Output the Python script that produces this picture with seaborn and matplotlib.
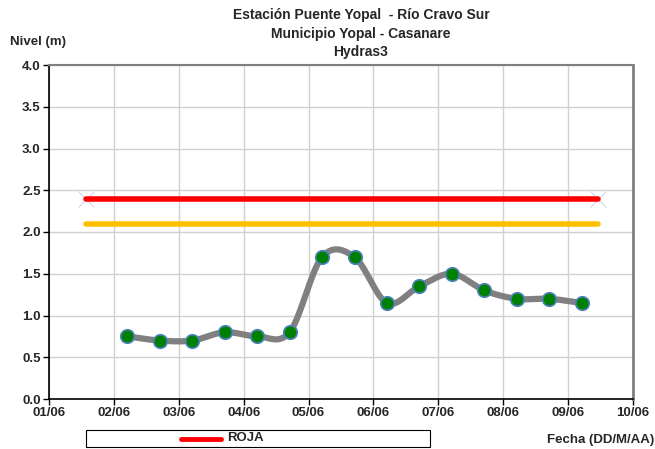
import numpy as np
import pandas as pd
import matplotlib
matplotlib.use("Agg")
import matplotlib.pyplot as plt
import matplotlib.dates as mdates
from matplotlib.lines import Line2D
from matplotlib.patches import Rectangle
import seaborn as sns

sns.set_theme(style="white")
plt.rcParams['font.family'] = ['Liberation Sans', 'DejaVu Sans']
plt.rcParams['font.weight'] = 'bold'

# Readings every 12 hours
fechas = pd.date_range("2023-06-02 05:00", periods=15, freq="12h")
nivel = [0.75, 0.70, 0.70, 0.80, 0.75, 0.80, 1.70, 1.70, 1.15, 1.35, 1.50, 1.30, 1.20, 1.20, 1.15]

# Alert thresholds
umbral_inicio = pd.Timestamp("2023-06-01 13:30")
umbral_fin = pd.Timestamp("2023-06-09 11:00")
nivel_roja = 2.4
nivel_naranja = 2.1

df = pd.DataFrame({"fecha": fechas, "nivel": nivel})


def suavizar(x, y, n=20):
    """Catmull-Rom curve through the readings (smoothed line)."""
    x = np.asarray(x, float)
    y = np.asarray(y, float)
    px = np.concatenate([[2 * x[0] - x[1]], x, [2 * x[-1] - x[-2]]])
    py = np.concatenate([[2 * y[0] - y[1]], y, [2 * y[-1] - y[-2]]])
    xs, ys = [], []
    for i in range(1, len(px) - 2):
        t = np.linspace(0, 1, n, endpoint=False)
        t2, t3 = t * t, t * t * t
        for arr, out in ((px, xs), (py, ys)):
            p0, p1, p2, p3 = arr[i - 1], arr[i], arr[i + 1], arr[i + 2]
            out.extend(0.5 * ((2 * p1) + (-p0 + p2) * t
                              + (2 * p0 - 5 * p1 + 4 * p2 - p3) * t2
                              + (-p0 + 3 * p1 - 3 * p2 + p3) * t3))
    xs.append(x[-1])
    ys.append(y[-1])
    return np.array(xs), np.array(ys)


fig = plt.figure(figsize=(6.55, 4.49), dpi=100)
ax = fig.add_axes([49 / 655, 1 - 399 / 449, (633 - 49) / 655, (399 - 65) / 449])

# Threshold lines
thr = pd.DataFrame({"fecha": [umbral_inicio, umbral_fin], "roja": [nivel_roja] * 2,
                    "naranja": [nivel_naranja] * 2})
sns.lineplot(data=thr, x="fecha", y="roja", color="#FF0000", lw=4, ax=ax,
             solid_capstyle="round", zorder=3)
sns.lineplot(data=thr, x="fecha", y="naranja", color="#FFC000", lw=4, ax=ax,
             solid_capstyle="round", zorder=3)
ax.plot(thr["fecha"], thr["roja"], ls="none", marker="x", ms=12, mew=0.6,
        color="#C8C8E8", zorder=2)

# Smoothed level curve
xn = mdates.date2num(df["fecha"])
sx, sy = suavizar(xn, df["nivel"])
ax.plot(mdates.num2date(sx), sy, color="#808080", lw=4.5, zorder=4,
        solid_capstyle="round")
sns.scatterplot(data=df, x="fecha", y="nivel", color="#008000", edgecolor="#4F81BD",
                linewidth=1.2, s=95, ax=ax, zorder=5)

ax.set_xlim(pd.Timestamp("2023-06-01"), pd.Timestamp("2023-06-10"))
ax.set_ylim(0, 4)
ax.xaxis.set_major_locator(mdates.DayLocator())
ax.xaxis.set_major_formatter(mdates.DateFormatter("%d/%m"))
ax.set_yticks(np.arange(0, 4.01, 0.5))
ax.yaxis.set_major_formatter(matplotlib.ticker.FormatStrFormatter("%.1f"))
ax.grid(True, color="#D0D0D0", lw=1)
ax.set_axisbelow(True)
ax.tick_params(axis="both", labelsize=9.5, length=4, width=1, color="black",
               direction="out", bottom=True, left=True, pad=2)
for lbl in ax.get_xticklabels() + ax.get_yticklabels():
    lbl.set_fontweight("bold")
ax.set_xlabel("")
ax.set_ylabel("")
for side in ("left", "bottom"):
    ax.spines[side].set_color("black")
    ax.spines[side].set_linewidth(1.2)
ax.spines["top"].set_color("#808080")
ax.spines["top"].set_linewidth(1.5)
ax.spines["right"].set_color("#808080")
ax.spines["right"].set_linewidth(2)

fig.text(361 / 655, 1 - 15 / 449, "Estación Puente Yopal  - Río Cravo Sur",
         ha="center", va="center", fontsize=10, fontweight="bold")
fig.text(361 / 655, 1 - 34 / 449, "Municipio Yopal - Casanare",
         ha="center", va="center", fontsize=10, fontweight="bold")
fig.text(361 / 655, 1 - 52 / 449, "Hydras3",
         ha="center", va="center", fontsize=10, fontweight="bold")
fig.text(10 / 655, 1 - 42 / 449, "Nivel (m)", ha="left", va="center",
         fontsize=9.5, fontweight="bold")
fig.text(654 / 655, 1 - 440 / 449, "Fecha (DD/M/AA)", ha="right", va="center",
         fontsize=9.5, fontweight="bold")

# Legend box below the plot
fig.patches.append(Rectangle((86 / 655, 1 - 447 / 449), (430 - 86) / 655, 17 / 449,
                             transform=fig.transFigure, facecolor="white",
                             edgecolor="black", lw=0.8))
fig.lines.append(Line2D([181 / 655, 221 / 655], [1 - 438.5 / 449] * 2,
                        transform=fig.transFigure, color="#FF0000", lw=3.5,
                        solid_capstyle="round"))
fig.text(227 / 655, 1 - 438 / 449, "ROJA", ha="left", va="center",
         fontsize=9.5, fontweight="bold")

fig.savefig("out.png", dpi=100)
